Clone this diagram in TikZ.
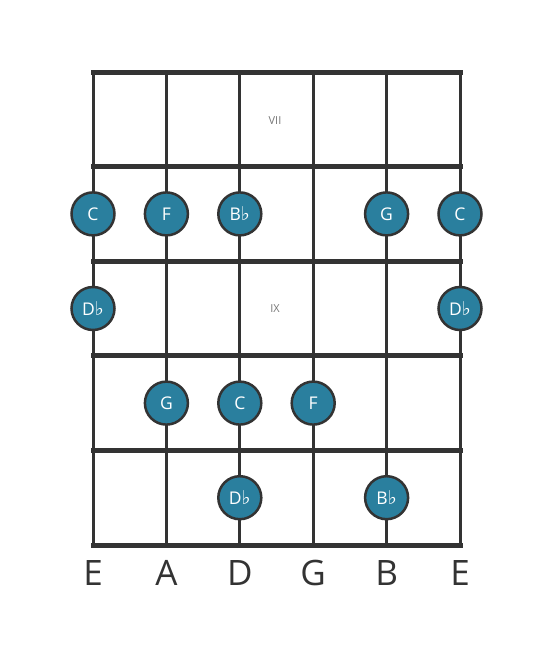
\documentclass[tikz,border=0pt]{standalone}
\usepackage{fontspec}
\setmainfont{Open Sans}
\newfontfamily\flatfont{DejaVu Sans}
\usepackage{tikz}
\definecolor{fretgray}{HTML}{333333}
\definecolor{notefill}{HTML}{2A7F9E}
\definecolor{posgray}{HTML}{777777}
\tikzstyle{note}=[
    circle,
    draw=fretgray,
    line width=2.5pt,
    fill=notefill,
    minimum size=43pt,
    inner sep=0pt,
    text=white,
    font=\fontsize{17.5}{17.5}\selectfont
]
\tikzstyle{strname}=[
    text=fretgray,
    font=\fontsize{35}{35}\selectfont
]
\tikzstyle{fretnum}=[
    text=posgray,
    font=\fontsize{11}{11}\selectfont
]
\newcommand{\fl}{{\flatfont\fontsize{19}{19}\selectfont ♭}}

\begin{document}
\begin{tikzpicture}[x=1pt,y=-1pt]
        \useasboundingbox (0,0) rectangle (553,656);

        % strings
        \foreach \x in {93,166.4,239.8,313.2,386.6,460}
            \draw[fretgray, line width=3pt] (\x,72) -- (\x,545);

        % frets
        \foreach \y in {72,166.6,261.2,355.8,450.4,545}
            \draw[fretgray, line width=5pt, line cap=rect] (93,\y) -- (460,\y);

        % position markers
        \node[fretnum] (vii) at (275,121) {VII};
        \node[fretnum] (ix) at (275,309) {IX};

        % notes
        \node[note] (c1) at (93,213.9) {C};
        \node[note] (f1) at (166.4,213.9) {F};
        \node[note] (bb1) at (239.8,213.9) {B\fl};
        \node[note] (g1) at (386.6,213.9) {G};
        \node[note] (c2) at (460,213.9) {C};

        \node[note] (db1) at (93,308.5) {D\fl};
        \node[note] (db2) at (460,308.5) {D\fl};

        \node[note] (g2) at (166.4,403.1) {G};
        \node[note] (c3) at (239.8,403.1) {C};
        \node[note] (f2) at (313.2,403.1) {F};

        \node[note] (db3) at (239.8,497.7) {D\fl};
        \node[note] (bb2) at (386.6,497.7) {B\fl};

        % string names
        \node[strname] (sE) at (93,573) {E};
        \node[strname] (sA) at (166.4,573) {A};
        \node[strname] (sD) at (239.8,573) {D};
        \node[strname] (sG) at (313.2,573) {G};
        \node[strname] (sB) at (386.6,573) {B};
        \node[strname] (se) at (460,573) {E};

    \end{tikzpicture}
\end{document}
